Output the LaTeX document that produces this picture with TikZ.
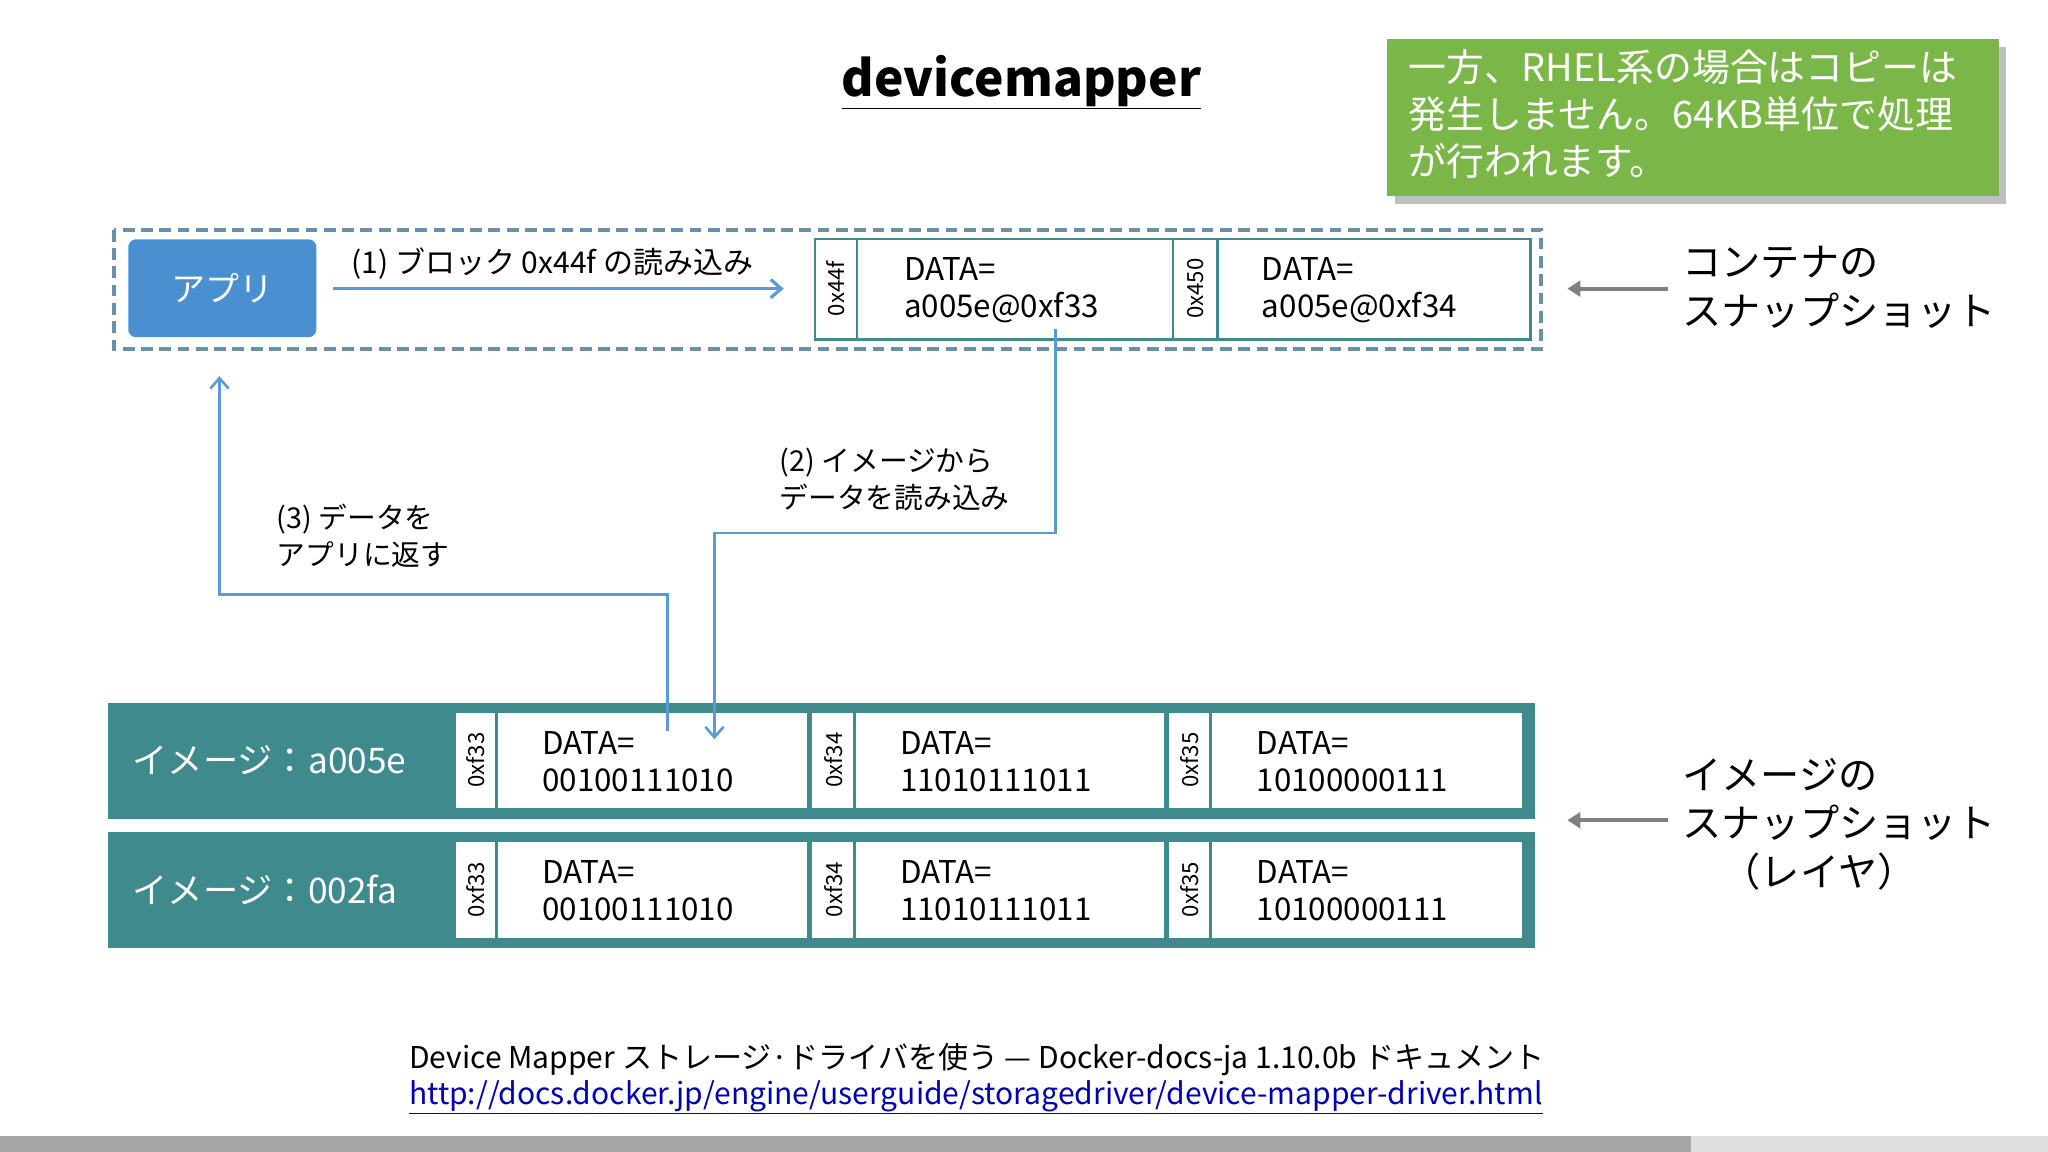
\documentclass[tikz,border=0pt]{standalone}
\usepackage{fontspec}
\setmainfont{Noto Sans CJK JP}
\usetikzlibrary{arrows.meta}
\definecolor{teal1}{HTML}{3F8A8C}
\definecolor{flow}{HTML}{5B9BD5}
\definecolor{appblue}{HTML}{4A8FD0}
\definecolor{grn}{HTML}{7AB648}
\definecolor{dashc}{HTML}{6A8FA8}
\begin{document}
\begin{tikzpicture}[x=1pt,y=-1pt,
 txt/.style={font=\fontsize{24}{28}\selectfont,align=left,inner sep=0},
 cell/.style={draw=teal1,line width=2pt,fill=white},
 addr/.style={font=\fontsize{17}{17}\selectfont,rotate=90,inner sep=0},
 flowl/.style={draw=flow,line width=2.5pt,-{Straight Barb[length=8pt,width=14pt]}},
 garr/.style={draw=gray,line width=3pt,-{Triangle[length=10pt,width=12pt]}}]
\useasboundingbox (0,0) rectangle (1568,882);
\fill[white] (0,0) rectangle (1568,882);
\node[font=\fontsize{38}{40}\selectfont\bfseries] (title) at (782,63) {\underline{devicemapper}};
\fill[gray!50] (1068,36) rectangle (1536,156);
\node[fill=grn,minimum width=468,minimum height=120,anchor=north west,inner sep=0] (note) at (1062,30) {};
\node[txt,text=white,font=\fontsize{29}{36}\selectfont,anchor=north west] (notet) at (1078,38) {一方、RHEL系の場合はコピーは\\発生しません。64KB単位で処理\\が行われます。};
\draw[dashc,line width=3pt,dash pattern=on 9pt off 5pt] (87,176) rectangle (1180,267);
\node[fill=appblue,rounded corners=6pt,minimum width=144,minimum height=75,anchor=north west,inner sep=0] (app) at (98,183) {};
\node[text=white,font=\fontsize{26}{26}\selectfont] at (app) {アプリ};
\coordinate (a1s) at (255,221); \coordinate (a1e) at (600,221);
\draw[flowl] (a1s) -- (a1e);
\node[txt,font=\fontsize{23}{26}\selectfont] (l1) at (423,202) {(1) ブロック 0x44f の読み込み};
% container blocks
\draw[cell] (624,183) rectangle (1172,260);
\draw[cell] (656,183) -- (656,260) (898,183) -- (898,260) (932,183) -- (932,260);
\node[addr] (c1) at (640,221) {0x44f};
\node[addr] (c2) at (915,221) {0x450};
\node[txt,anchor=west] (d1) at (692,222) {DATA=\\a005e@0xf33};
\node[txt,anchor=west] (d2) at (966,222) {DATA=\\a005e@0xf34};
% image layers
\foreach \y/\lab in {538/{イメージ：a005e},637/{イメージ：002fa}}{
 \fill[teal1] (83,\y) rectangle (1175,\y+89);
 \node[text=white,font=\fontsize{27}{27}\selectfont,anchor=west] at (98,\y+44) {\lab};
 \foreach \a/\b/\c/\ad/\dd in {349/380/618/0xf33/00100111010,622/654/891/0xf34/11010111011,895/927/1165/0xf35/10100000111}{
  \fill[white] (\a,\y+8) rectangle (\c,\y+81);
  \draw[teal1,line width=2pt] (\b,\y+8) -- (\b,\y+81);
  \node[addr] at ({(\a+\b)/2},\y+44) {\ad};
  \node[txt,anchor=west] at (\b+35,\y+45) {DATA=\\\dd};
 }
}
\coordinate (p2a) at (808,252); \coordinate (p2b) at (547,566);
\draw[flowl,line width=2pt] (p2a) |- (547,408) -- (p2b);
\node[txt,font=\fontsize{22}{28}\selectfont] (l2) at (685,367) {(2) イメージから\\データを読み込み};
\coordinate (p3a) at (511,560); \coordinate (p3b) at (168,288);
\draw[flowl,line width=2pt] (p3a) |- (168,455) -- (p3b);
\node[txt,font=\fontsize{22}{28}\selectfont] (l3) at (278,410) {(3) データを\\アプリに返す};
% right labels
\coordinate (r1s) at (1277,221); \coordinate (r1e) at (1200,221);
\draw[garr] (r1s) -- (r1e);
\node[txt,font=\fontsize{30}{37}\selectfont,anchor=west] (rl1) at (1288,220) {コンテナの\\スナップショット};
\coordinate (r2s) at (1277,628); \coordinate (r2e) at (1200,628);
\draw[garr] (r2s) -- (r2e);
\node[txt,font=\fontsize{30}{37}\selectfont,anchor=west] (rl2) at (1288,631) {イメージの\\スナップショット\\　（レイヤ）};
\node[txt,anchor=west,font=\fontsize{23}{23}\selectfont] (f1) at (313,811) {Device Mapper ストレージ·ドライバを使う — Docker-docs-ja 1.10.0b ドキュメント};
\node[txt,anchor=west,text=blue!70!black,font=\fontsize{23}{23}\selectfont] (f2) at (313,840) {\underline{http://docs.docker.jp/engine/userguide/storagedriver/device-mapper-driver.html}};
\fill[gray!70] (0,870) rectangle (1295,882);
\fill[gray!25] (1295,870) rectangle (1568,882);
\end{tikzpicture}
\end{document}
